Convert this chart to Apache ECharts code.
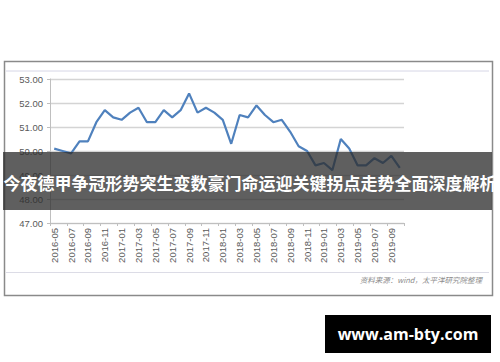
<!DOCTYPE html>
<html>
<head>
<meta charset="utf-8">
<script src="https://cdn.jsdelivr.net/npm/echarts@6/dist/echarts.min.js"></script>
<style>
html,body{margin:0;padding:0;background:#fff;}
#chart{width:500px;height:362px;}
</style>
</head>
<body>
<div id="chart"></div>
<script>
var categories = ["2016-05","2016-06","2016-07","2016-08","2016-09","2016-10","2016-11","2016-12",
  "2017-01","2017-02","2017-03","2017-04","2017-05","2017-06","2017-07","2017-08","2017-09","2017-10","2017-11","2017-12",
  "2018-01","2018-02","2018-03","2018-04","2018-05","2018-06","2018-07","2018-08","2018-09","2018-10","2018-11","2018-12",
  "2019-01","2019-02","2019-03","2019-04","2019-05","2019-06","2019-07","2019-08","2019-09","2019-10"];
var values = [50.1,50.0,49.9,50.4,50.4,51.2,51.7,51.4,
  51.3,51.6,51.8,51.2,51.2,51.7,51.4,51.7,52.4,51.6,51.8,51.6,
  51.3,50.3,51.5,51.4,51.9,51.5,51.2,51.3,50.8,50.2,50.0,49.4,
  49.5,49.2,50.5,50.1,49.4,49.4,49.7,49.5,49.8,49.3];
var yTicks = {min: 47, max: 53, interval: 1};
var bannerTitle = "今夜德甲争冠形势突生变数豪门命运迎关键拐点走势全面深度解析";
var sourceNote = "资料来源：wind，太平洋研究院整理";
var siteLabel = "www.am-bty.com";

var chart = echarts.init(document.getElementById('chart'), null, {renderer: 'svg'});
chart.setOption({
  backgroundColor: '#ffffff',
  animation: false,
  grid: {left: 50, top: 79, width: 354, height: 144, containLabel: false},
  xAxis: {
    type: 'category',
    data: categories,
    boundaryGap: true,
    axisLine: {show: true, lineStyle: {color: '#bfbfbf', width: 1}},
    axisTick: {show: true, interval: 1, length: 3, lineStyle: {color: '#bfbfbf'}},
    axisLabel: {interval: 1, rotate: 90, margin: 5, fontSize: 9.5, color: '#595959', fontFamily: 'Liberation Sans'},
    splitLine: {show: false}
  },
  yAxis: {
    type: 'value',
    min: yTicks.min, max: yTicks.max, interval: yTicks.interval,
    axisLine: {show: true, lineStyle: {color: '#bfbfbf', width: 1}},
    axisTick: {show: true, length: 3, lineStyle: {color: '#bfbfbf'}},
    axisLabel: {formatter: function(v){return v.toFixed(2);}, fontSize: 9.5, color: '#595959', margin: 7, fontFamily: 'Liberation Sans'},
    splitLine: {show: true, lineStyle: {color: '#d4d4d4', width: 1.3}}
  },
  series: [{
    type: 'line',
    data: values,
    symbol: 'none',
    lineStyle: {color: '#4f81bd', width: 2.2},
    z: 3
  }],
  graphic: [
    {type: 'rect', z: 1, shape: {x: 4.5, y: 61.5, width: 488, height: 234}, style: {fill: 'none', stroke: '#8a8a8a', lineWidth: 1.5}},
    {type: 'line', z: 1, shape: {x1: 6, y1: 71, x2: 489, y2: 71}, style: {stroke: '#d6d6e6', lineWidth: 1}},
    {type: 'line', z: 1, shape: {x1: 6, y1: 272.5, x2: 489, y2: 272.5}, style: {stroke: '#dcdce6', lineWidth: 1}},
    {type: 'text', z: 1, x: 482, y: 279, style: {text: sourceNote, fontSize: 7.5, fontStyle: 'italic', fill: '#8c8c8c', align: 'right', verticalAlign: 'middle', fontFamily: 'Noto Sans CJK SC'}},
    {type: 'rect', z: 100, shape: {x: 3, y: 152, width: 489, height: 58}, style: {fill: 'rgba(45,45,45,0.76)'}},
    {type: 'text', z: 101, x: 250, y: 182, style: {text: bannerTitle, fontSize: 17, fontWeight: 'bold', fill: '#ffffff', align: 'center', verticalAlign: 'middle', fontFamily: 'Noto Sans CJK SC'}},
    {type: 'rect', z: 100, shape: {x: 325, y: 315, width: 166, height: 38}, style: {fill: '#000000'}},
    {type: 'text', z: 101, x: 408, y: 334, style: {text: siteLabel, fontSize: 16, fontWeight: 'bold', fill: '#ffffff', align: 'center', verticalAlign: 'middle', fontFamily: 'Open Sans'}}
  ]
});
</script>
</body>
</html>
